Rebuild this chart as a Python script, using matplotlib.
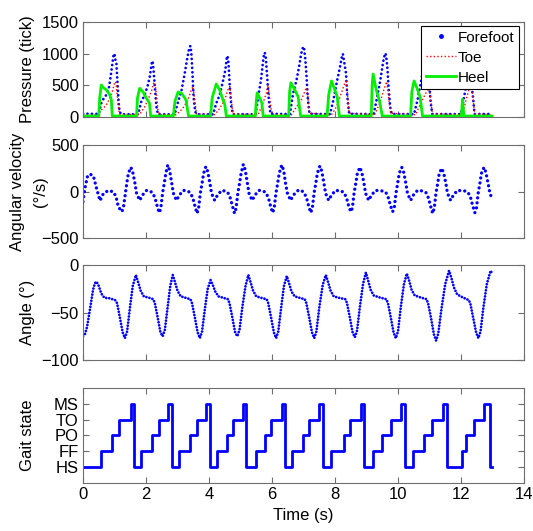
import matplotlib
matplotlib.use("Agg")
import matplotlib.pyplot as plt
from matplotlib.lines import Line2D

plt.rcParams["font.family"] = ["Liberation Sans", "DejaVu Sans"]
plt.rcParams["font.size"] = 12

# ---- presion (tick) ----
forefoot_t = [0.00, 0.50, 0.53, 0.58, 0.66, 0.74, 0.82, 0.87, 0.92, 0.97, 1.00, 1.03, 1.06, 1.09, 1.13, 1.16, 1.22,
              1.75, 1.85, 1.96, 2.06, 2.12, 2.19, 2.21, 2.24, 2.28, 2.33, 2.38,
              2.91, 3.02, 3.12, 3.23, 3.30, 3.37, 3.41, 3.44, 3.47, 3.51, 3.56, 3.62,
              4.13, 4.23, 4.34, 4.44, 4.52, 4.57, 4.59, 4.62, 4.66, 4.71, 4.76,
              5.48, 5.58, 5.65, 5.71, 5.75, 5.77, 5.80, 5.84, 5.89, 5.95,
              6.57, 6.67, 6.78, 6.86, 6.93, 6.99, 7.02, 7.06, 7.09, 7.14, 7.19,
              7.84, 7.95, 8.05, 8.16, 8.23, 8.25, 8.29, 8.35, 8.39, 8.45,
              9.23, 9.34, 9.44, 9.53, 9.59, 9.62, 9.66, 9.70, 9.75, 9.80,
              10.51, 10.62, 10.72, 10.83, 10.90, 10.93, 10.96, 10.99, 11.04, 11.09,
              12.00, 12.08, 12.16, 12.24, 12.29, 12.34, 12.38, 12.43, 12.99]
forefoot_v = [52, 48, 110, 216, 295, 348, 453, 611, 795, 980, 1000, 900, 850, 585, 243, 84, 42,
              42, 243, 348, 506, 637, 874, 885, 743, 480, 163, 42,
              42, 243, 400, 690, 900, 1085, 1122, 1006, 743, 321, 84, 42,
              42, 216, 348, 558, 743, 953, 964, 850, 480, 163, 42,
              42, 374, 585, 850, 1006, 1016, 953, 690, 321, 50,
              45, 374, 585, 795, 1006, 1111, 1080, 901, 690, 269, 50,
              45, 269, 532, 795, 980, 996, 874, 690, 321, 50,
              45, 321, 585, 874, 1006, 980, 795, 480, 163, 47,
              45, 269, 532, 821, 980, 1006, 901, 532, 216, 47,
              45, 269, 480, 690, 560, 480, 321, 47, 47]

toe_t = [0.00, 0.50, 0.53, 0.64, 0.74, 0.85, 0.93, 1.00, 1.03, 1.06, 1.11, 1.16,
         1.80, 1.96, 2.06, 2.17, 2.24, 2.28, 2.33, 2.38, 2.43,
         2.96, 3.17, 3.33, 3.44, 3.49, 3.55, 3.60,
         4.18, 4.34, 4.50, 4.60, 4.66, 4.71, 4.76,
         5.56, 5.71, 5.82, 5.87, 5.95, 6.00,
         6.62, 6.78, 6.93, 7.04, 7.09, 7.14, 7.19,
         7.89, 8.05, 8.20, 8.35, 8.39, 8.45,
         9.26, 9.42, 9.55, 9.64, 9.69, 9.76,
         10.56, 10.72, 10.88, 10.99, 11.04, 11.09,
         12.05, 12.16, 12.26, 12.32, 12.38, 12.43, 12.99]
toe_v = [30, 30, 84, 137, 190, 295, 400, 532, 558, 480, 216, 40,
         40, 163, 269, 400, 532, 548, 374, 111, 35,
         35, 137, 269, 427, 480, 269, 50,
         35, 137, 269, 427, 480, 269, 50,
         35, 216, 374, 506, 216, 40,
         35, 163, 269, 400, 463, 321, 60,
         35, 163, 374, 590, 400, 60,
         35, 216, 427, 558, 374, 60,
         35, 216, 374, 453, 269, 50,
         35, 269, 453, 506, 321, 50, 35]

heel_t = [0.00, 0.50, 0.53, 0.58, 0.66, 0.74, 0.85, 0.90, 0.93,
          1.70, 1.73, 1.80, 1.90, 2.01, 2.11, 2.15,
          2.87, 2.92, 3.02, 3.13, 3.27, 3.35,
          4.05, 4.10, 4.23, 4.34, 4.42, 4.50, 4.55,
          5.47, 5.50, 5.53, 5.61, 5.68, 5.72,
          6.53, 6.56, 6.60, 6.70, 6.83, 6.91,
          7.75, 7.80, 7.89, 7.98, 8.07, 8.14,
          9.15, 9.18, 9.21, 9.30, 9.42, 9.50,
          10.40, 10.44, 10.51, 10.60, 10.70, 10.78,
          12.01, 12.05, 12.09, 12.99]
heel_v = [15, 15, 300, 506, 455, 430, 350, 270, 15,
          15, 300, 453, 400, 300, 220, 15,
          15, 250, 395, 375, 270, 15,
          15, 300, 521, 427, 300, 200, 15,
          15, 250, 380, 300, 220, 15,
          15, 400, 540, 450, 320, 15,
          15, 350, 569, 450, 320, 15,
          15, 500, 679, 450, 240, 15,
          15, 400, 569, 460, 320, 15,
          15, 280, 15, 15]

# ---- velocidad angular (grados/s) ----
vel_t = [0.00, 0.06, 0.14, 0.22, 0.33, 0.43, 0.54, 0.65, 0.80, 0.96, 1.05, 1.12, 1.23, 1.28, 1.33, 1.39, 1.44, 1.52,
         1.58, 1.65, 1.70, 1.80, 1.89, 2.02, 2.12, 2.21, 2.29, 2.345, 2.42, 2.47, 2.525, 2.58, 2.63, 2.69,
         2.75, 2.82, 2.87, 2.97, 3.06, 3.19, 3.32, 3.41, 3.49, 3.545, 3.62, 3.67, 3.725, 3.78, 3.83, 3.90,
         3.96, 4.03, 4.08, 4.18, 4.27, 4.40, 4.51, 4.60, 4.68, 4.735, 4.81, 4.86, 4.915, 4.97, 5.02, 5.09,
         5.15, 5.22, 5.27, 5.37, 5.46, 5.59, 5.72, 5.81, 5.89, 5.945, 6.02, 6.07, 6.125, 6.18, 6.23, 6.31,
         6.37, 6.43, 6.49, 6.59, 6.68, 6.84, 6.94, 7.02, 7.10, 7.155, 7.23, 7.28, 7.335, 7.39, 7.44, 7.52,
         7.58, 7.65, 7.70, 7.80, 7.89, 8.02, 8.20, 8.29, 8.37, 8.425, 8.50, 8.55, 8.605, 8.66, 8.71, 8.79,
         8.85, 8.92, 8.97, 9.07, 9.16, 9.29, 9.53, 9.62, 9.70, 9.755, 9.83, 9.88, 9.935, 9.99, 10.04, 10.12,
         10.18, 10.25, 10.30, 10.40, 10.49, 10.62, 10.80, 10.89, 10.97, 11.025, 11.10, 11.15, 11.205, 11.26, 11.31, 11.39,
         11.45, 11.52, 11.57, 11.67, 11.76, 11.89, 12.14, 12.23, 12.31, 12.365, 12.44, 12.49, 12.545, 12.60, 12.65, 12.73,
         12.79, 12.86, 12.92, 12.99]
vel_v = [-109, 34, 159, 188, 167, 34, -99, -20, 9, -2, -56, -163, -217, -181, -56, 88, 195, 260,
         208, 88, -19, -95, -38, 12, 5, -13, -73, -145, -228, -181, -19, 88, 196, 285,
         228, 88, -19, -95, -38, 12, 5, -13, -73, -145, -235, -181, -19, 88, 196, 267,
         214, 88, -19, -95, -38, 12, 5, -13, -73, -145, -235, -181, -19, 88, 196, 292,
         234, 88, -19, -95, -38, 12, 5, -13, -73, -145, -228, -181, -19, 88, 196, 285,
         228, 88, -19, -95, -38, 16, 9, -13, -73, -145, -228, -181, -19, 88, 196, 274,
         219, 88, -19, -95, -38, 12, 5, -13, -73, -145, -217, -181, -19, 88, 196, 260,
         208, 88, -19, -95, -38, 12, 5, -13, -73, -145, -217, -181, -19, 88, 196, 260,
         208, 88, -19, -95, -38, 12, 5, -13, -73, -145, -235, -181, -19, 88, 196, 249,
         199, 88, -19, -95, -38, 12, 5, -13, -73, -145, -228, -181, -19, 88, 196, 260,
         208, 88, -19, -84]

# ---- angulo (grados) ----
ang_t = [0.00, 0.06, 0.13, 0.22, 0.32, 0.38, 0.43, 0.50, 0.58, 0.68, 0.85, 1.02,
         1.08, 1.17, 1.26, 1.33, 1.40, 1.49, 1.58, 1.68, 1.75, 1.83, 1.93, 2.10, 2.23,
         2.28, 2.37, 2.46, 2.53, 2.60, 2.69, 2.77, 2.85, 2.92, 3.00, 3.10, 3.25, 3.41,
         3.46, 3.55, 3.64, 3.71, 3.78, 3.87, 3.96, 4.05, 4.12, 4.20, 4.30, 4.45, 4.60,
         4.65, 4.74, 4.83, 4.90, 4.97, 5.06, 5.16, 5.25, 5.32, 5.40, 5.50, 5.65, 5.83,
         5.88, 5.97, 6.06, 6.13, 6.20, 6.29, 6.38, 6.47, 6.54, 6.62, 6.72, 6.87, 7.04,
         7.09, 7.18, 7.27, 7.34, 7.41, 7.50, 7.61, 7.71, 7.78, 7.86, 7.96, 8.12, 8.33,
         8.38, 8.47, 8.56, 8.63, 8.70, 8.79, 8.89, 8.98, 9.05, 9.13, 9.23, 9.40, 9.63,
         9.68, 9.77, 9.86, 9.93, 10.00, 10.09, 10.19, 10.28, 10.35, 10.43, 10.53, 10.70, 10.91,
         10.96, 11.05, 11.14, 11.21, 11.28, 11.38, 11.50, 11.62, 11.69, 11.78, 11.88, 12.05, 12.25,
         12.30, 12.39, 12.48, 12.55, 12.62, 12.71, 12.82, 12.94, 12.99]
ang_v = [-75, -73, -65, -47, -26, -19, -17.5, -22, -30, -34.5, -35, -37,
         -40, -55, -71, -77, -70, -45, -22, -10.5, -18, -27, -33, -34.5, -36,
         -40, -55, -71, -75, -68, -44, -22, -10.5, -18, -27, -33, -34.5, -36,
         -40, -55, -71, -77, -70, -46, -25, -15.8, -21, -28, -33, -34.5, -36,
         -40, -55, -71, -75, -68, -44, -22, -10.5, -18, -27, -33, -34.5, -36,
         -40, -55, -71, -77, -70, -45, -22, -11.6, -19, -28, -33, -34.5, -36,
         -40, -55, -71, -77, -70, -45, -21, -10.5, -18, -27, -33, -34.5, -36,
         -40, -55, -71, -76, -69, -44, -20, -8, -16, -26, -32, -34, -36,
         -40, -55, -71, -77, -70, -44, -20, -9, -16, -26, -32, -34, -36,
         -41, -56, -73, -79.5, -72, -46, -20, -6, -13, -24, -31, -34, -37,
         -41, -56, -71, -77, -70, -45, -20, -6, -9]

# ---- estado de la marcha ----
gait_levels = ["HS", "FF", "PO", "TO", "MS"]
gait_t = [0.00, 0.58, 0.92, 1.14, 1.51, 1.61, 1.85, 2.19, 2.40, 2.70,
          2.83, 3.05, 3.39, 3.62, 3.91, 4.02, 4.25, 4.57, 4.75, 5.09,
          5.17, 5.48, 5.78, 5.96, 6.33, 6.41, 6.65, 6.97, 7.17, 7.50,
          7.61, 7.86, 8.30, 8.48, 8.82, 8.92, 9.22, 9.50, 9.77, 10.10,
          10.22, 10.49, 10.83, 11.09, 11.44, 11.55, 12.02, 12.15, 12.41, 12.74,
          12.92, 12.99]
gait_s = gait_levels * 10 + ["HS", "HS"]
gait_y = [gait_levels.index(s) + 1 for s in gait_s]

BLUE = "#0000ff"
RED = "#ff0000"
GREEN = "#00f000"
GREY = "#6e6e6e"


def dots(ax, t, v, lw, gap, color=BLUE, **kw):
    return ax.plot(t, v, color=color, lw=lw, linestyle=(0, (0.01, gap)),
                   dash_capstyle="round", **kw)


fig = plt.figure(figsize=(5.33, 5.31), dpi=100)
L, W = 0.1557, 0.8274
ax1 = fig.add_axes([L, 0.7797, W, 0.1789])
ax2 = fig.add_axes([L, 0.5518, W, 0.1751])
ax3 = fig.add_axes([L, 0.3220, W, 0.1789])
ax4 = fig.add_axes([L, 0.0904, W, 0.1789])

dots(ax1, forefoot_t, forefoot_v, 2.0, 1.6)
ax1.plot(toe_t, toe_v, color=RED, lw=1.0, linestyle=(0, (1, 1.6)))
ax1.plot(heel_t, heel_v, color=GREEN, lw=2.0)
ax1.set_ylim(0, 1500)
ax1.set_yticks([0, 500, 1000, 1500])
ax1.set_ylabel("Pressure (tick)")

handles = [Line2D([], [], color=BLUE, marker=".", ms=5, linestyle="none"),
           Line2D([], [], color=RED, lw=1.0, linestyle=(0, (1, 1.6))),
           Line2D([], [], color=GREEN, lw=2.0)]
leg = ax1.legend(handles, ["Forefoot", "Toe", "Heel"], loc="upper right",
                 bbox_to_anchor=(0.9887, 0.958), borderaxespad=0, fancybox=False,
                 framealpha=1, edgecolor="black", handlelength=2.0, handletextpad=0.1,
                 labelspacing=0.4, borderpad=0.3, fontsize=11)
leg.get_frame().set_linewidth(0.8)

dots(ax2, vel_t, vel_v, 2.4, 1.5)
ax2.set_ylim(-500, 500)
ax2.set_yticks([-500, 0, 500])
ax2.set_ylabel("Angular velocity")
ax2.text(-0.097, 0.5, "(°/s)", transform=ax2.transAxes, rotation=90,
         ha="center", va="center", fontsize=12)

dots(ax3, ang_t, ang_v, 2.0, 1.1)
ax3.set_ylim(-100, 0)
ax3.set_yticks([-100, -50, 0])
ax3.set_ylabel("Angle (°)")

ax4.plot(gait_t, gait_y, color=BLUE, lw=2.0, drawstyle="steps-post")
ax4.set_ylim(0, 6)
ax4.set_yticks(range(1, 6))
ax4.set_yticklabels(gait_levels)
ax4.set_ylabel("Gait state")
ax4.set_xlabel("Time (s)")

for ax in (ax1, ax2, ax3, ax4):
    ax.set_xlim(0, 14)
    ax.set_xticks(range(0, 15, 2))
    ax.tick_params(direction="in", top=True, right=True, length=4, width=0.8,
                   color=GREY, labelsize=12, pad=3)
    for sp in ax.spines.values():
        sp.set_color(GREY)
        sp.set_linewidth(0.8)
    ax.yaxis.set_label_coords(-0.108, 0.5)
    if ax is not ax4:
        ax.tick_params(labelbottom=False)
ax2.yaxis.set_label_coords(-0.132, 0.5)

fig.savefig("out.png", dpi=100, facecolor="white")
